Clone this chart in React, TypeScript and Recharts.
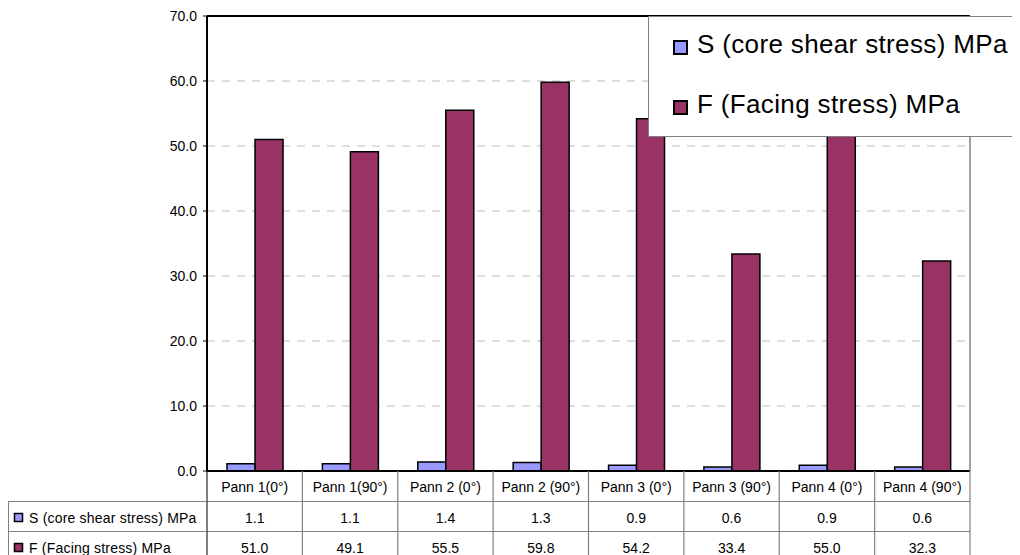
import React from 'react';
import { BarChart, Bar, XAxis, YAxis, CartesianGrid, ReferenceLine } from 'recharts';

const categories = [
  'Pann 1(0°)',
  'Pann 1(90°)',
  'Pann 2 (0°)',
  'Pann 2 (90°)',
  'Pann 3 (0°)',
  'Pann 3 (90°)',
  'Pann 4 (0°)',
  'Pann 4 (90°)',
];
const coreShear = [1.1, 1.1, 1.4, 1.3, 0.9, 0.6, 0.9, 0.6];
const facing = [51.0, 49.1, 55.5, 59.8, 54.2, 33.4, 55.0, 32.3];
const yTicks = [0, 10, 20, 30, 40, 50, 60, 70];

const series = [
  { key: 'S', name: 'S (core shear stress) MPa', color: '#9999FF' },
  { key: 'F', name: 'F (Facing stress) MPa', color: '#993366' },
];

const rows = categories.map((name, i) => ({ name, S: coreShear[i], F: facing[i] }));

const W = 1012;
const H = 547;
const MARGIN = { top: 7, right: 49, bottom: 0, left: 139 };
const Y_AXIS_W = 60;
const EDGE = 1;
const TABLE_H = 84;
const PLOT_W = W - MARGIN.left - Y_AXIS_W - MARGIN.right - EDGE;
const COL_W = PLOT_W / categories.length;
const ROW_H = 30;
const FONT = '"Liberation Sans", Arial, sans-serif';
const GRID = '#808080';

// Category axis ticks double as the data table under the plot
const TableTick = (props: any) => {
  const { x, y, index, payload } = props;
  const left = x - COL_W / 2;
  const right = x + COL_W / 2;
  const row = rows[index];
  const bottom = y + TABLE_H + 10;
  const textProps = {
    textAnchor: 'middle' as const,
    dominantBaseline: 'central' as const,
    fontSize: 14,
    fontFamily: FONT,
    fill: '#000',
  };
  return (
    <g>
      <line x1={right} y1={y} x2={right} y2={bottom} stroke={GRID} strokeWidth={1.2} />
      <line x1={left} y1={y + ROW_H + 0.5} x2={right} y2={y + ROW_H + 0.5} stroke={GRID} />
      <line x1={left} y1={y + ROW_H * 2 + 0.5} x2={right} y2={y + ROW_H * 2 + 0.5} stroke={GRID} />
      <text x={x} y={y + 16} {...textProps}>{payload.value}</text>
      <text x={x} y={y + 47} {...textProps}>{row.S.toFixed(1)}</text>
      <text x={x} y={y + 77} {...textProps}>{row.F.toFixed(1)}</text>
      {index === 0 && (
        <g>
          <line x1={left} y1={y} x2={left} y2={bottom} stroke="#000" />
          <line x1={0.5} y1={y + ROW_H} x2={0.5} y2={bottom} stroke={GRID} />
          <line x1={0} y1={y + ROW_H + 0.5} x2={left} y2={y + ROW_H + 0.5} stroke={GRID} />
          <line x1={0} y1={y + ROW_H * 2 + 0.5} x2={left} y2={y + ROW_H * 2 + 0.5} stroke={GRID} />
          {series.map((s, i) => {
            const cy = y + 47 + i * 30;
            return (
              <g key={s.key}>
                <rect x={6.5} y={cy - 4.5} width={8} height={8} fill={s.color} stroke="#000" strokeWidth={1.5} />
                <text
                  x={21}
                  y={cy}
                  dominantBaseline="central"
                  fontSize={14}
                  fontFamily={FONT}
                  letterSpacing={0.2}
                  fill="#000"
                >
                  {s.name}
                </text>
              </g>
            );
          })}
        </g>
      )}
    </g>
  );
};

const ChartLegend = () => (
  <div
    style={{
      position: 'absolute',
      left: 640,
      top: 8,
      width: 420,
      height: 121,
      boxSizing: 'border-box',
      border: '1px solid #808080',
      background: '#fff',
      fontFamily: FONT,
    }}
  >
    {series.map((s, i) => (
      <div key={s.key}>
        <div
          style={{
            position: 'absolute',
            left: 24,
            top: 23 + i * 60,
            width: 11,
            height: 11,
            background: s.color,
            border: '2px solid #000',
          }}
        />
        <span
          style={{
            position: 'absolute',
            left: 48,
            top: 11 + i * 60,
            fontSize: 26,
            lineHeight: '32px',
            letterSpacing: 0.35,
            whiteSpace: 'nowrap',
            color: '#000',
          }}
        >
          {s.name}
        </span>
      </div>
    ))}
  </div>
);

export default function App() {
  return (
    <div style={{ position: 'relative', width: W, height: H, overflow: 'hidden', background: '#fff' }}>
      <BarChart
        width={W}
        height={H}
        data={rows}
        margin={MARGIN}
        barCategoryGap="21%"
        barGap={0}
      >
        <CartesianGrid vertical={false} stroke="#bdbdbd" strokeDasharray="8 7" />
        <XAxis
          dataKey="name"
          height={TABLE_H}
          tickSize={0}
          tickMargin={0}
          tickLine={false}
          axisLine={{ stroke: '#000', strokeWidth: 2 }}
          interval={0}
          tick={<TableTick />}
        />
        <XAxis
          xAxisId="edge"
          dataKey="name"
          orientation="top"
          height={EDGE}
          tickSize={0}
          tick={false}
          tickLine={false}
          axisLine={{ stroke: '#000', strokeWidth: 2 }}
        />
        <YAxis
          width={Y_AXIS_W}
          domain={[0, 70]}
          ticks={yTicks}
          interval={0}
          tickSize={4}
          tickMargin={6}
          tickFormatter={(v: number) => v.toFixed(1)}
          tick={{ fontSize: 14, fontFamily: FONT, fill: '#000' }}
          tickLine={{ stroke: '#000' }}
          axisLine={{ stroke: '#000', strokeWidth: 2 }}
        />
        <YAxis
          yAxisId="edge"
          orientation="right"
          width={EDGE}
          tickSize={0}
          tick={false}
          tickLine={false}
          axisLine={{ stroke: GRID, strokeWidth: 1.5 }}
        />
        <ReferenceLine y={70} stroke="#000" strokeWidth={2} />
        {series.map((s) => (
          <Bar
            key={s.key}
            dataKey={s.key}
            name={s.name}
            fill={s.color}
            stroke="#000"
            strokeWidth={1.5}
            isAnimationActive={false}
          />
        ))}
      </BarChart>
      <ChartLegend />
    </div>
  );
}
